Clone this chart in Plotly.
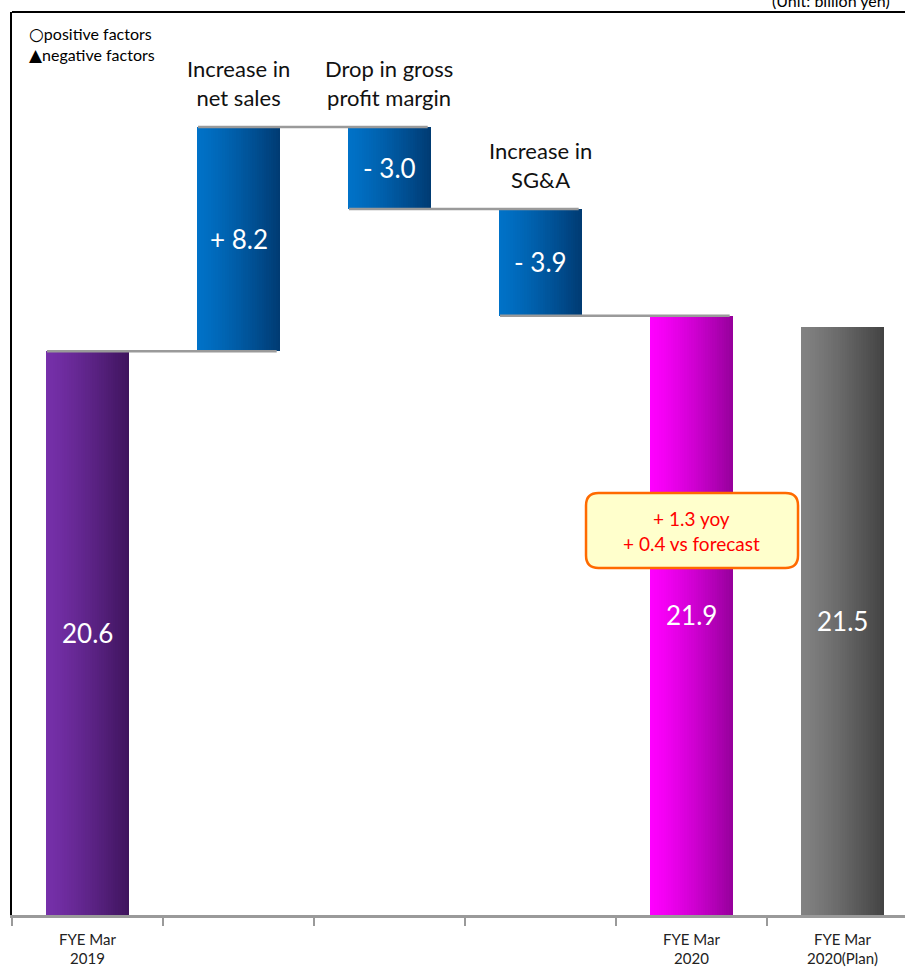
import plotly.graph_objects as go

# ---------------- data ----------------
categories = ["FYE Mar 2019", "Increase in net sales", "Drop in gross profit margin",
              "Increase in SG&A", "FYE Mar 2020", "FYE Mar 2020(Plan)"]
tick_labels = ["FYE Mar<br>2019", "", "", "", "FYE Mar<br>2020", "FYE Mar<br>2020(Plan)"]
start_value = 20.6
changes = [8.2, -3.0, -3.9]
end_value = 21.9
plan_value = 21.5
value_labels = ["20.6", "+ 8.2", "- 3.0", "- 3.9", "21.9", "21.5"]
factor_titles = ["Increase in<br>net sales", "Drop in gross<br>profit margin", "Increase in<br>SG&A"]
callout_lines = ["+ 1.3 yoy", "+ 0.4 vs forecast"]
legend_symbols = ["○", "▲"]
legend_lines = ["positive factors", "negative factors"]
unit_label = "(Unit: billion yen)"

# ---------------- styles ----------------
FONT = "Lato, 'Open Sans', sans-serif"
BAR_W = 0.556
SLICES = 36
bar_colors = [
    ("#7630AA", "#3E145C"),
    ("#0072C8", "#003A72"),
    ("#0072C8", "#003A72"),
    ("#0072C8", "#003A72"),
    ("#FF00FF", "#95009A"),
    ("#828282", "#424242"),
]

# compute bar extents from data
extents = [(0.0, start_value)]
level = start_value
levels = [start_value]
for c in changes:
    new = level + c
    extents.append((min(level, new), max(level, new)))
    level = new
    levels.append(level)
extents.append((0.0, end_value))
extents.append((0.0, plan_value))


def hex2rgb(h):
    h = h.lstrip("#")
    return tuple(int(h[i:i + 2], 16) for i in (0, 2, 4))


def mix(c1, c2, t):
    a, b = hex2rgb(c1), hex2rgb(c2)
    return "rgb(%d,%d,%d)" % tuple(round(a[i] + (b[i] - a[i]) * t) for i in range(3))


fig = go.Figure()
for j, (cat, (lo, hi)) in enumerate(zip(categories, extents)):
    c1, c2 = bar_colors[j]
    step = BAR_W / SLICES
    offs, widths, cols = [], [], []
    for k in range(SLICES):
        t = (k + 0.5) / SLICES
        offs.append(-BAR_W / 2 + k * step)
        widths.append(step * (1.25 if k < SLICES - 1 else 1.0))
        cols.append(mix(c1, c2, t ** 1.25))
    fig.add_trace(go.Bar(
        x=[cat] * SLICES, y=[hi - lo] * SLICES, base=[lo] * SLICES,
        offset=offs, width=widths,
        marker=dict(color=cols, line=dict(width=0)),
        hoverinfo="skip", showlegend=False,
    ))

# connectors
for i, lv in enumerate(levels):
    fig.add_shape(type="line", xref="x", yref="y",
                  x0=i - BAR_W / 2 + 0.01, x1=i + 1 + BAR_W / 2 - 0.025, y0=lv, y1=lv,
                  line=dict(color="#9A9A9A", width=2.5), layer="above")

# value labels in bars
for j, (cat, (lo, hi)) in enumerate(zip(categories, extents)):
    fig.add_annotation(x=cat, y=(lo + hi) / 2, xref="x", yref="y", text=value_labels[j],
                       showarrow=False, font=dict(family=FONT, size=26, color="white"))

# factor titles
for i, t in enumerate(factor_titles):
    lo, hi = extents[i + 1]
    fig.add_annotation(x=categories[i + 1], y=hi, xref="x", yref="y", text=t,
                       showarrow=False, yanchor="bottom", yshift=14,
                       font=dict(family=FONT, size=22, color="#111111"))

# legend-like notes
for i, (s, t) in enumerate(zip(legend_symbols, legend_lines)):
    fig.add_annotation(x=0.0165, y=0.9756 - i * 0.0235, xref="paper", yref="paper",
                       text=f"<span style='font-family:DejaVu Sans;font-size:17px'>{s}</span>{t}",
                       showarrow=False, xanchor="left", yanchor="middle",
                       font=dict(family=FONT, size=16, color="#000000"))

# unit label (cropped at top like the reference)
fig.add_annotation(x=0.985, y=1.0122, xref="paper", yref="paper", text=unit_label,
                   showarrow=False, xanchor="right", yanchor="middle",
                   font=dict(family=FONT, size=16, color="#000000"))

# callout box
x0, x1, y0, y1 = 0.6428, 0.8802, 0.3843, 0.4673
rx, ry = 0.0140, 0.0138
path = (f"M {x0+rx},{y0} L {x1-rx},{y0} Q {x1},{y0} {x1},{y0+ry} "
        f"L {x1},{y1-ry} Q {x1},{y1} {x1-rx},{y1} "
        f"L {x0+rx},{y1} Q {x0},{y1} {x0},{y1-ry} "
        f"L {x0},{y0+ry} Q {x0},{y0} {x0+rx},{y0} Z")
fig.add_shape(type="path", xref="paper", yref="paper", path=path,
              fillcolor="#FFFFCC", line=dict(color="#FF6A00", width=2.5), layer="above")
fig.add_annotation(x=categories[4], y=(y0 + y1) / 2, xref="x", yref="paper",
                   text="<br>".join(callout_lines), showarrow=False,
                   font=dict(family=FONT, size=19, color="#FF0000"))

# top frame line
fig.add_shape(type="line", xref="paper", yref="paper", x0=0, x1=1, y0=1, y1=1,
              line=dict(color="#000000", width=2))

fig.update_layout(
    width=905, height=972,
    margin=dict(l=12, r=0, t=12, b=57),
    paper_bgcolor="white", plot_bgcolor="white",
    barmode="overlay",
    bargap=0,
    showlegend=False,
    font=dict(family=FONT),
    xaxis=dict(
        type="category", categoryorder="array", categoryarray=categories,
        tickmode="array", tickvals=categories, ticktext=tick_labels,
        tickson="boundaries", ticks="outside", ticklen=8, tickcolor="#9A9A9A", tickwidth=1.5,
        ticklabelstandoff=9,
        showline=True, linecolor="#9A9A9A", linewidth=2.5,
        showgrid=False, zeroline=False,
        range=[-0.5, 5.414],
        tickfont=dict(family=FONT, size=15, color="#222222"),
    ),
    yaxis=dict(
        range=[0, 33], showgrid=False, zeroline=False, showticklabels=False,
        ticks="", showline=True, linecolor="#000000", linewidth=1.5,
    ),
)

fig.write_html("out.html", config={"displayModeBar": False},
               post_script="document.body.style.margin='0';document.body.style.overflow='hidden';")
